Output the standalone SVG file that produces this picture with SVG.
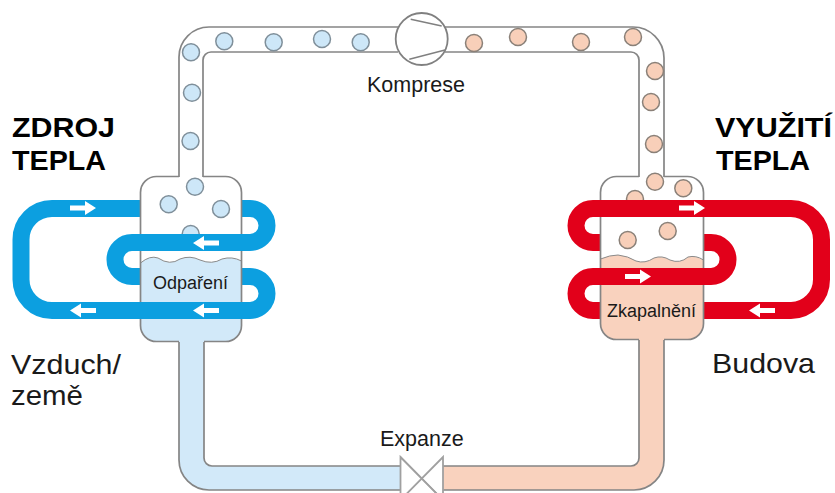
<svg xmlns="http://www.w3.org/2000/svg" width="835" height="493" viewBox="0 0 835 493">
<defs>
<style>
text{font-family:"Liberation Sans",Arial,sans-serif;fill:#1a1a1a}
.big{font-size:28.500px}
.head{font-size:28.500px;font-weight:bold;fill:#000}
.mid{font-size:21.500px}
.small{font-size:18px}
.line{fill:none;stroke:#858585;stroke-width:1.700}
.coilb{fill:none;stroke:#0c9fe0;stroke-width:17}
.coilr{fill:none;stroke:#e2001a;stroke-width:17}
.cold{fill:#d2e9f9}
.hot{fill:#f9d2be}
.bc{fill:#cde7f8;stroke:#7f8f9a;stroke-width:1.500}
.bh{fill:#f8cfb9;stroke:#8a8078;stroke-width:1.500}
</style>
<path id="ar" d="M-13,-2.500H2V-7L13,0L2,7V2.500H-13Z" fill="#fff"/>
</defs>
<rect width="835" height="493" fill="#fff"/>

<g id="coil-back">
<path class="coilb" d="M140,208.500H52A31,31 0 0 0 21,239.500V279.500A31,31 0 0 0 52,310.500H140"/>
<path class="coilb" d="M241,208.500H250A17,17 0 0 1 250,242.500H240"/>
<path class="coilb" d="M140,242.500H132A17,17 0 0 0 132,276.500H141"/>
<path class="coilb" d="M241,276.500H250A17,17 0 0 1 250,310.500H240"/>
<path class="coilr" d="M703,310.500H791A31,31 0 0 0 821.500,279.500V239.500A31,31 0 0 0 791,208.500H690"/>
<path class="coilr" d="M600,242.500H593A17,17 0 0 1 593,208.500H610"/>
<path class="coilr" d="M703,242.500H711A17,17 0 0 1 711,276.500H700"/>
<path class="coilr" d="M600,310.500H593A17,17 0 0 1 593,276.500H610"/>
</g>

<g id="evaporator">
<rect x="140.500" y="176.500" width="101" height="165" rx="16" fill="#fff"/>
<path class="cold" d="M140.500,263Q150,255 158,258Q170,266 180,259Q190,255 200,260Q212,265 222,259Q232,256 241.500,261V325A16,16 0 0 1 225.500,341.500H156.500A16,16 0 0 1 140.500,325Z"/>
<path fill="none" stroke="#8a8a8a" stroke-width="1" d="M140.500,263Q150,255 158,258Q170,266 180,259Q190,255 200,260Q212,265 222,259Q232,256 241.500,261"/>
<rect class="line" x="140.500" y="176.500" width="101" height="165" rx="16"/>
</g>
<g id="condenser">
<rect x="600.500" y="176.500" width="103" height="163" rx="16" fill="#fff"/>
<path class="hot" d="M600.500,259Q610,255 618,255Q628,256 636,261Q645,264 654,258Q662,255 670,260Q680,264 688,257Q696,255 703.500,260V323A16,16 0 0 1 687.500,339.500H616.500A16,16 0 0 1 600.500,323Z"/>
<path fill="none" stroke="#8a8a8a" stroke-width="1" d="M600.500,259Q610,255 618,255Q628,256 636,261Q645,264 654,258Q662,255 670,260Q680,264 688,257Q696,255 703.500,260"/>
<rect class="line" x="600.500" y="176.500" width="103" height="163" rx="16"/>
</g>

<g id="connectors">
<path fill="#fff" d="M179,178V57A30,30 0 0 1 209,27H400V52H211A8,8 0 0 0 203,60V178Z"/>
<path fill="#fff" d="M443,27H633A31,31 0 0 1 664,58V178H639V60A8,8 0 0 0 631,52H443Z"/>
<path class="cold" d="M179,340V460A30,30 0 0 0 209,490H400V466H212A8,8 0 0 1 204,458V340Z"/>
<path class="hot" d="M639,338V458A8,8 0 0 1 631,466H443V490H634A30,30 0 0 0 664,460V338Z"/>
<path class="line" d="M179,177V57A30,30 0 0 1 209,27H400M203,177V60A8,8 0 0 1 211,52H398"/>
<path class="line" d="M443,27H633A31,31 0 0 1 664,58V177M639,177V60A8,8 0 0 0 631,52H445"/>
<path class="line" d="M179,342V460A30,30 0 0 0 209,490H400M204,342V458A8,8 0 0 0 212,466H400"/>
<path class="line" d="M639,340V458A8,8 0 0 1 631,466H443M664,340V460A30,30 0 0 1 634,490H443"/>
</g>

<g id="bubbles-cold">
<circle class="bc" cx="224.300" cy="41.300" r="8.500"/>
<circle class="bc" cx="273.700" cy="42.300" r="8.500"/>
<circle class="bc" cx="322" cy="39" r="8.500"/>
<circle class="bc" cx="360.700" cy="42.300" r="8.500"/>
<circle class="bc" cx="191" cy="52.300" r="8.500"/>
<circle class="bc" cx="192" cy="92.700" r="8.500"/>
<circle class="bc" cx="190.500" cy="141" r="8.500"/>
<circle class="bc" cx="168.700" cy="204.300" r="8.500"/>
<circle class="bc" cx="195" cy="186.700" r="8.500"/>
<circle class="bc" cx="221" cy="209" r="8.500"/>
<circle class="bc" cx="190.700" cy="234" r="8.500"/>
</g>
<g id="bubbles-hot">
<circle class="bh" cx="474" cy="43" r="8.500"/>
<circle class="bh" cx="518" cy="37" r="8.500"/>
<circle class="bh" cx="581" cy="42" r="8.500"/>
<circle class="bh" cx="633" cy="37" r="8.500"/>
<circle class="bh" cx="655" cy="71" r="8.500"/>
<circle class="bh" cx="651" cy="102" r="8.500"/>
<circle class="bh" cx="654" cy="144" r="8.500"/>
<circle class="bh" cx="655" cy="181.700" r="8.500"/>
<circle class="bh" cx="683.300" cy="188.300" r="8.500"/>
<circle class="bh" cx="635" cy="199" r="8.500"/>
<circle class="bh" cx="627.700" cy="240" r="8.500"/>
<circle class="bh" cx="667.700" cy="231" r="8.500"/>
</g>

<g id="coil-front">
<path class="coilb" d="M248,242.500H132"/>
<path class="coilb" d="M248,310.500H132"/>
<path class="coilr" d="M593,208.500H720"/>
<path class="coilr" d="M711,276.500H593"/>
</g>

<g id="compressor">
<circle cx="421.700" cy="39" r="26" fill="#fff" stroke="#808080" stroke-width="1.800"/>
<path fill="none" stroke="#808080" stroke-width="1.500" d="M410.700,19.300L441.700,26M409.300,59.300L445,50"/>
</g>
<g id="valve">
<path fill="#fff" stroke="#a0a0a0" stroke-width="1.800" d="M400.500,457V500L443,457V500Z"/>
<path fill="none" stroke="#a0a0a0" stroke-width="1.500" d="M400.500,457L443,500"/>
</g>

<g id="arrows">
<use href="#ar" x="83" y="208"/>
<use href="#ar" transform="translate(206,243) rotate(180)"/>
<use href="#ar" transform="translate(83,310.500) rotate(180)"/>
<use href="#ar" transform="translate(206,310.500) rotate(180)"/>
<use href="#ar" x="692" y="208"/>
<use href="#ar" x="638" y="276.500"/>
<use href="#ar" transform="translate(762,310.500) rotate(180)"/>
</g>

<g id="labels">
<text class="head" x="12" y="136.500" textLength="103" lengthAdjust="spacingAndGlyphs">ZDROJ</text>
<text class="head" x="12" y="170" textLength="94" lengthAdjust="spacingAndGlyphs">TEPLA</text>
<text class="big" x="11" y="373.500" textLength="110" lengthAdjust="spacingAndGlyphs">Vzduch/</text>
<text class="big" x="11" y="404.500" textLength="72" lengthAdjust="spacingAndGlyphs">země</text>
<text class="head" x="715" y="136.500" textLength="117" lengthAdjust="spacingAndGlyphs">VYUŽITÍ</text>
<text class="head" x="716" y="170" textLength="94" lengthAdjust="spacingAndGlyphs">TEPLA</text>
<text class="big" x="712" y="372.500" textLength="103" lengthAdjust="spacingAndGlyphs">Budova</text>
<text class="mid" x="367" y="92">Komprese</text>
<text class="mid" x="380" y="446">Expanze</text>
<text class="small" x="153" y="289">Odpaření</text>
<text class="small" x="607" y="317">Zkapalnění</text>
</g>
</svg>
